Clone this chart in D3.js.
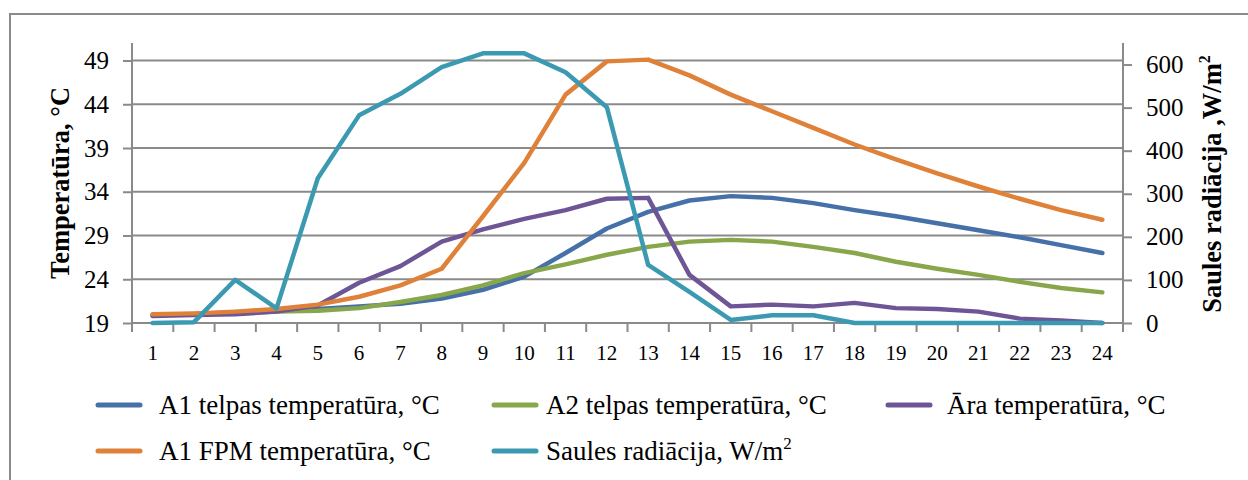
<!DOCTYPE html>
<html>
<head>
<meta charset="utf-8">
<script src="https://cdnjs.cloudflare.com/ajax/libs/d3/7.8.5/d3.min.js"></script>
<style>
  body { margin: 0; background: #fff; }
</style>
</head>
<body>
<div id="chart"></div>
<script>
/* Data */
var hours = d3.range(1, 25).map(String);
var a1Telpas = [19.9, 20.0, 20.2, 20.4, 20.6, 20.9, 21.2, 21.8, 22.8, 24.3, 27.0, 29.8,
                31.7, 33.0, 33.5, 33.3, 32.7, 31.9, 31.2, 30.4, 29.6, 28.8, 27.9, 27.0];
var a2Telpas = [19.9, 20.0, 20.1, 20.3, 20.4, 20.7, 21.4, 22.2, 23.3, 24.7, 25.7, 26.8,
                27.7, 28.3, 28.5, 28.3, 27.7, 27.0, 26.0, 25.2, 24.5, 23.7, 23.0, 22.5];
var araTemp  = [19.8, 19.9, 20.0, 20.3, 21.0, 23.6, 25.5, 28.3, 29.7, 30.9, 31.9, 33.2,
                33.3, 24.5, 20.9, 21.1, 20.9, 21.3, 20.7, 20.6, 20.3, 19.5, 19.3, 19.0];
var a1Fpm    = [20.0, 20.1, 20.3, 20.6, 21.1, 22.0, 23.3, 25.2, 31.2, 37.3, 45.1, 48.9,
                49.1, 47.3, 45.1, 43.2, 41.3, 39.4, 37.7, 36.1, 34.6, 33.2, 31.9, 30.8];
var saules   = [0, 2, 100, 34, 336, 482, 532, 594, 626, 626, 582, 501,
                135, 72, 7, 18, 18, 0, 0, 0, 0, 0, 0, 0];
var leftTicks = [19, 24, 29, 34, 39, 44, 49];
var rightTicks = [0, 100, 200, 300, 400, 500, 600];

var series = [
  {name: "A1 telpas temperatūra, °C", values: a1Telpas, color: "#4570a8", axis: "left"},
  {name: "A2 telpas temperatūra, °C", values: a2Telpas, color: "#88a64a", axis: "left"},
  {name: "Āra temperatūra, °C",       values: araTemp,  color: "#6e5595", axis: "left"},
  {name: "A1 FPM temperatūra, °C",    values: a1Fpm,    color: "#df8139", axis: "left"},
  {name: "Saules radiācija, W/m",     values: saules,   color: "#3b9ab1", axis: "right", sup: "2"}
];

/* Dimensions */
var width = 1248, height = 480;
var plot = {left: 132, right: 1123, top: 43, bottom: 323};
var gridColor = "#8a8a8a";
var serif = "'Liberation Serif', 'Times New Roman', serif";

var svg = d3.select("#chart").append("svg")
    .attr("width", width)
    .attr("height", height)
    .attr("font-family", serif);

/* Outer frame */
svg.append("rect")
    .attr("x", 10).attr("y", 14)
    .attr("width", 1260).attr("height", 500)
    .attr("fill", "none")
    .attr("stroke", gridColor)
    .attr("stroke-width", 2);

var x = d3.scaleBand()
    .domain(hours)
    .range([plot.left, plot.right]);

var yLeft = d3.scaleLinear()
    .domain([19, 51])
    .range([plot.bottom, plot.top]);

var yRight = d3.scaleLinear()
    .domain([0, 650])
    .range([plot.bottom, plot.top]);

/* Gridlines */
svg.append("g")
  .selectAll("line")
  .data(leftTicks)
  .enter().append("line")
    .attr("x1", plot.left).attr("x2", plot.right)
    .attr("y1", function(d) { return yLeft(d); })
    .attr("y2", function(d) { return yLeft(d); })
    .attr("stroke", gridColor)
    .attr("stroke-width", 2);

/* Left axis */
var gl = svg.append("g")
    .attr("transform", "translate(" + plot.left + ",0)")
    .call(d3.axisLeft(yLeft).tickValues(leftTicks).tickSize(9).tickPadding(14));

/* Right axis */
var gr = svg.append("g")
    .attr("transform", "translate(" + plot.right + ",0)")
    .call(d3.axisRight(yRight).tickValues(rightTicks).tickSize(9).tickPadding(14));

/* Bottom axis, ticks between categories */
var gb = svg.append("g")
    .attr("transform", "translate(0," + plot.bottom + ")")
    .call(d3.axisBottom(x).tickSize(0).tickPadding(22));

gb.selectAll(".boundary")
  .data(hours)
  .enter().append("line")
    .attr("class", "boundary")
    .attr("x1", function(d) { return x(d) + x.bandwidth(); })
    .attr("x2", function(d) { return x(d) + x.bandwidth(); })
    .attr("y1", 0).attr("y2", 9)
    .attr("stroke", gridColor)
    .attr("stroke-width", 2);

gb.select(".domain").remove();
gb.append("line")
    .attr("x1", plot.left).attr("x2", plot.right)
    .attr("y1", 0).attr("y2", 0)
    .attr("stroke", gridColor)
    .attr("stroke-width", 2);
gb.append("line")
    .attr("x1", plot.left).attr("x2", plot.left)
    .attr("y1", 0).attr("y2", 9)
    .attr("stroke", gridColor)
    .attr("stroke-width", 2);

[gl, gr, gb].forEach(function(g) {
  g.attr("font-family", serif);
});
[gl, gr].forEach(function(g) {
  g.select(".domain").attr("stroke", gridColor).attr("stroke-width", 2);
  g.selectAll(".tick line").attr("stroke", gridColor).attr("stroke-width", 2);
  g.selectAll(".tick text").attr("font-size", 25).attr("fill", "#000");
});
gl.select(".domain").attr("d", "M0," + plot.top + "V" + (plot.bottom + 9));
gr.select(".domain").attr("d", "M0," + plot.top + "V" + (plot.bottom + 9));
gb.selectAll(".tick text").attr("font-size", 21).attr("fill", "#000");

/* Axis titles */
svg.append("text")
    .attr("transform", "translate(69,183) rotate(-90)")
    .attr("text-anchor", "middle")
    .attr("font-weight", "bold")
    .attr("font-size", 26.5)
    .text("Temperatūra, °C");

var rt = svg.append("text")
    .attr("transform", "translate(1221,184) rotate(-90)")
    .attr("text-anchor", "middle")
    .attr("font-weight", "bold")
    .attr("font-size", 26.5)
    .text("Saules radiācija ,W/m");
rt.append("tspan")
    .attr("font-size", 16)
    .attr("dy", -11)
    .text("2");

/* Lines */
var lines = svg.append("g");
series.forEach(function(s) {
  var yy = s.axis === "left" ? yLeft : yRight;
  var line = d3.line()
      .x(function(d, i) { return x(hours[i]) + x.bandwidth() / 2; })
      .y(function(d) { return yy(d); });
  lines.append("path")
      .datum(s.values)
      .attr("fill", "none")
      .attr("stroke", s.color)
      .attr("stroke-width", 4.5)
      .attr("stroke-linejoin", "round")
      .attr("stroke-linecap", "round")
      .attr("d", line);
});

/* Legend: two rows, three columns */
var legendPos = [
  {x: 98, tx: 159, y: 405}, {x: 494, tx: 546, y: 405}, {x: 888, tx: 947, y: 405},
  {x: 98, tx: 159, y: 451}, {x: 494, tx: 546, y: 451}
];
var lg = svg.append("g").attr("class", "legend");
series.forEach(function(s, i) {
  var p = legendPos[i];
  lg.append("line")
      .attr("x1", p.x).attr("x2", p.x + 42)
      .attr("y1", p.y).attr("y2", p.y)
      .attr("stroke", s.color)
      .attr("stroke-width", 5)
      .attr("stroke-linecap", "round");
  var t = lg.append("text")
      .attr("x", p.tx)
      .attr("y", p.y + 9)
      .attr("font-size", 27)
      .attr("font-family", serif)
      .text(s.name);
  if (s.sup) {
    t.append("tspan").attr("font-size", 17).attr("dy", -11).text(s.sup);
  }
});
</script>
</body>
</html>
